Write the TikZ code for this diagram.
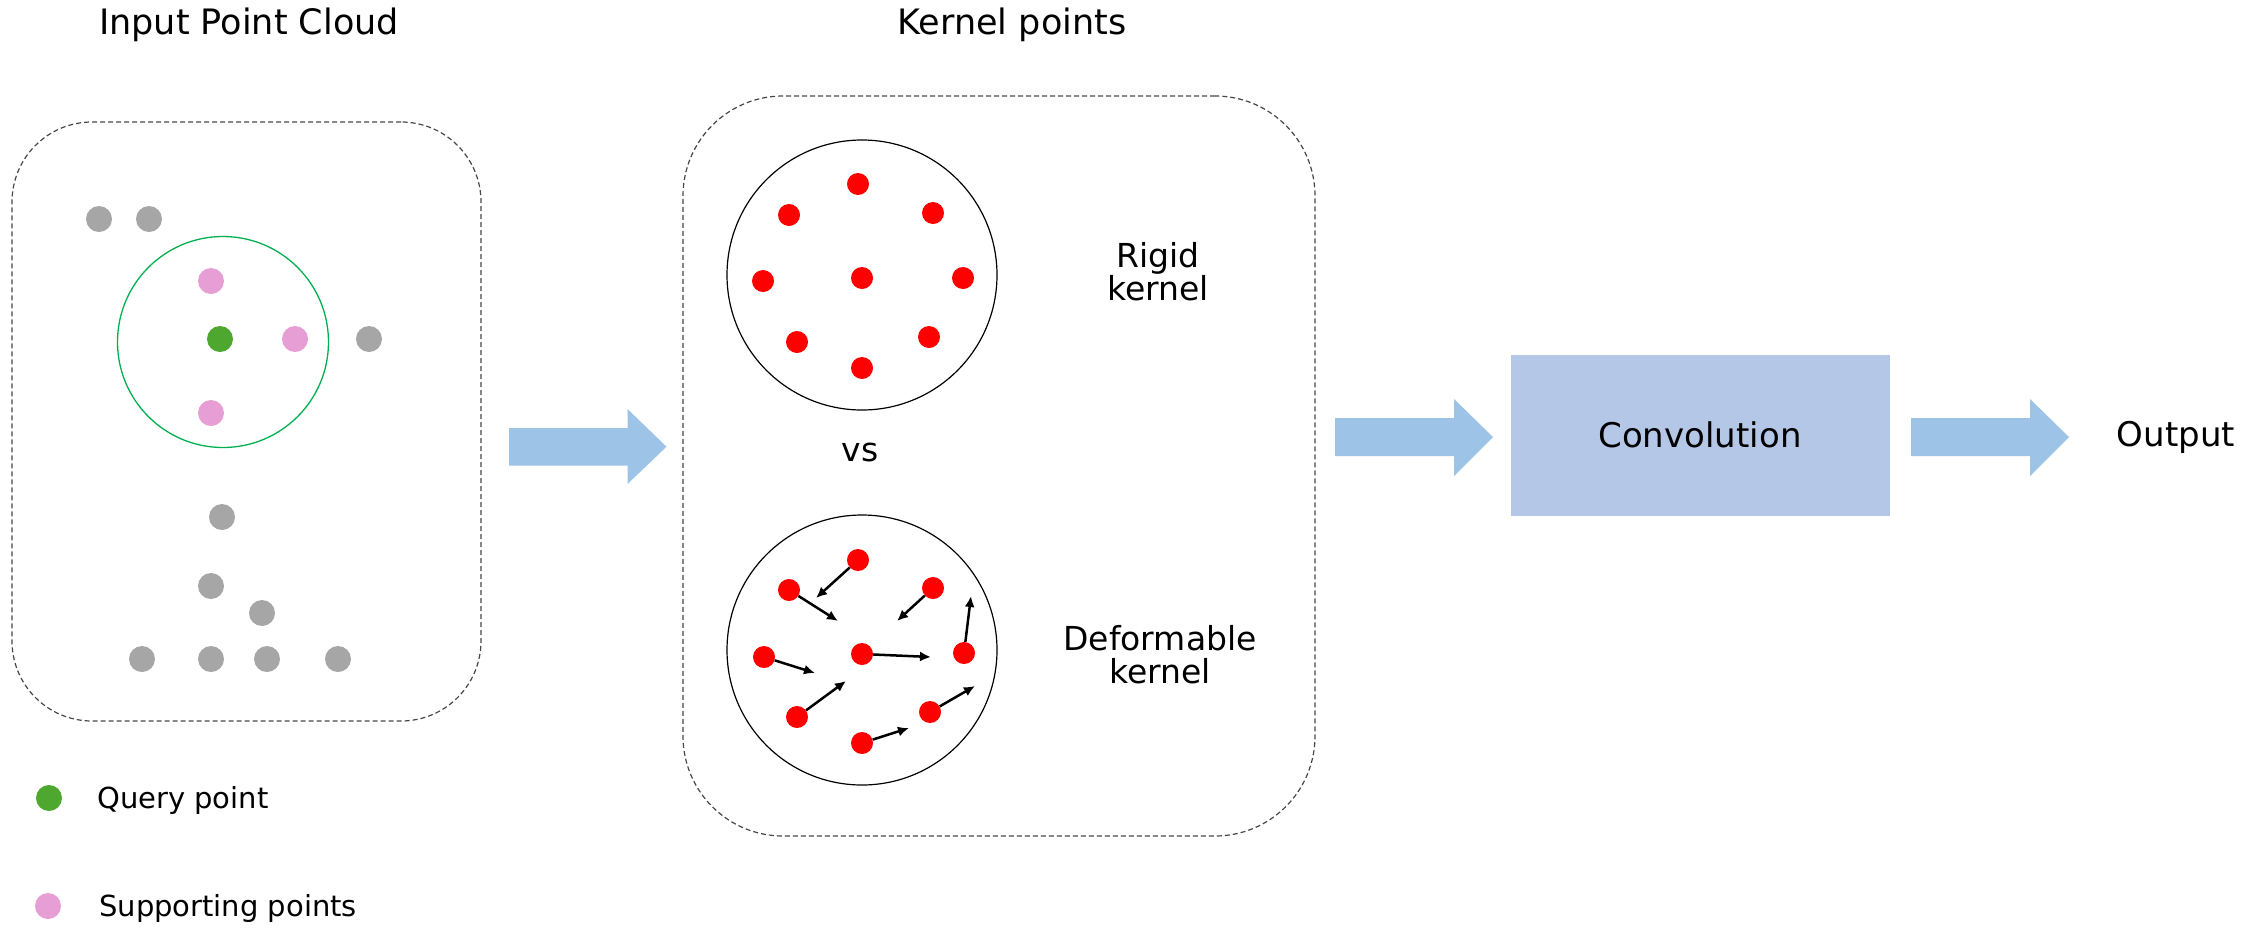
\documentclass[tikz,border=0pt]{standalone}
\usepackage{fontspec}
\setmainfont{DejaVu Sans}
\usetikzlibrary{arrows.meta}
\definecolor{greydot}{RGB}{166,166,166}
\definecolor{pinkdot}{RGB}{231,158,212}
\definecolor{greendot}{RGB}{78,167,46}
\definecolor{ringgreen}{RGB}{0,176,80}
\definecolor{convblue}{RGB}{180,199,231}
\definecolor{arrowblue}{RGB}{157,195,230}
\definecolor{boxline}{RGB}{70,70,70}
\begin{document}
\begin{tikzpicture}[x=1pt,y=-1pt,
  dot/.style={circle,inner sep=0pt,minimum size=26pt},
  gdot/.style={dot,fill=greydot},
  pdot/.style={dot,fill=pinkdot},
  qdot/.style={dot,fill=greendot},
  rdot/.style={circle,inner sep=0pt,minimum size=22pt,fill=red},
  dashbox/.style={draw=boxline,line width=1.2pt,dash pattern=on 5pt off 3pt,rounded corners=#1,inner sep=0pt},
  kcircle/.style={draw=black,line width=1.2pt,circle,inner sep=0pt,minimum size=270pt},
  offset/.style={line width=2.5pt,-{Latex[length=11pt,width=10pt]}},
  blockarrow/.style={fill=arrowblue},
  title/.style={font=\fontsize{35}{40}\selectfont,inner sep=0pt},
  label/.style={font=\fontsize{33}{33}\selectfont,align=center,inner sep=0pt},
  legend/.style={font=\fontsize{29}{33}\selectfont,inner sep=0pt,anchor=west}
]
\useasboundingbox (0,0) rectangle (2267,927);

% titles
\node[title] (t1) at (249,25) {Input Point Cloud};
\node[title] (t2) at (1012,25) {Kernel points};

% left box
\node[dashbox=80pt,minimum width=469pt,minimum height=599pt] (box1) at (246.5,421.5) {};
\node[draw=ringgreen,line width=1.3pt,circle,inner sep=0pt,minimum size=211pt] (ring) at (223,342) {};
\foreach \n/\x/\y in {g1/99/219,g2/149/219,g3/369/339,g4/222/517,g5/211/586,g6/262/613,g7/142/659,g8/211/659,g9/267/659,g10/338/659}
  \node[gdot] (\n) at (\x,\y) {};
\node[pdot] (p1) at (211,281) {};
\node[pdot] (p2) at (295,339) {};
\node[pdot] (p3) at (211,413) {};
\node[qdot] (q) at (220,339) {};

% legend
\node[qdot] (lq) at (49,798) {};
\node[legend] (lqt) at (97,800) {Query point};
\node[pdot] (lp) at (48,906) {};
\node[legend] (lpt) at (99,908) {Supporting points};

% middle box
\node[dashbox=100pt,minimum width=632pt,minimum height=740pt] (box2) at (999,466) {};
\node[kcircle] (rigid) at (862,275) {};
\node[kcircle] (deform) at (862,650) {};
\foreach \n/\x/\y in {r1/858/184,r2/789/215,r3/933/213,r4/763/281,r5/862/278,r6/963/278,r7/797/342,r8/929/337,r9/862/368}
  \node[rdot] (\n) at (\x,\y) {};
\foreach \n/\x/\y/\tx/\ty in {d1/858/560/816/598,d2/789/590/838/621,d3/933/588/897/621,d4/764/657/815/673,d5/862/654/931/657,d6/964/653/971/596,d7/797/717/846/681,d8/930/712/975/686,d9/862/743/909/728}{
  \node[rdot] (\n) at (\x,\y) {};
  \coordinate (\n e) at (\tx,\ty);
  \draw[offset] (\n) -- (\n e);
}
\node[label] (rl) at (1158,272) {Rigid\\kernel};
\node[label] (vs) at (860,452) {vs};
\node[label] (dl) at (1160,655) {Deformable\\kernel};

% block arrows
\fill[blockarrow] (509,428) -- (627.5,428) -- (627.5,409) -- (666.5,446.7) -- (627.5,484) -- (627.5,465.5) -- (509,465.5) -- cycle;
\fill[blockarrow] (1335,418) -- (1454,418) -- (1454,399) -- (1493,437) -- (1454,476) -- (1454,456) -- (1335,456) -- cycle;
\fill[blockarrow] (1911,418) -- (2030,418) -- (2030,399) -- (2069,437) -- (2030,476) -- (2030,456) -- (1911,456) -- cycle;

% convolution & output
\node[fill=convblue,minimum width=379pt,minimum height=161pt,inner sep=0pt,font=\fontsize{34}{40}\selectfont] (conv) at (1700,435) {Convolution};
\node[font=\fontsize{34}{40}\selectfont,inner sep=0pt] (out) at (2176,437) {Output};
\end{tikzpicture}
\end{document}
